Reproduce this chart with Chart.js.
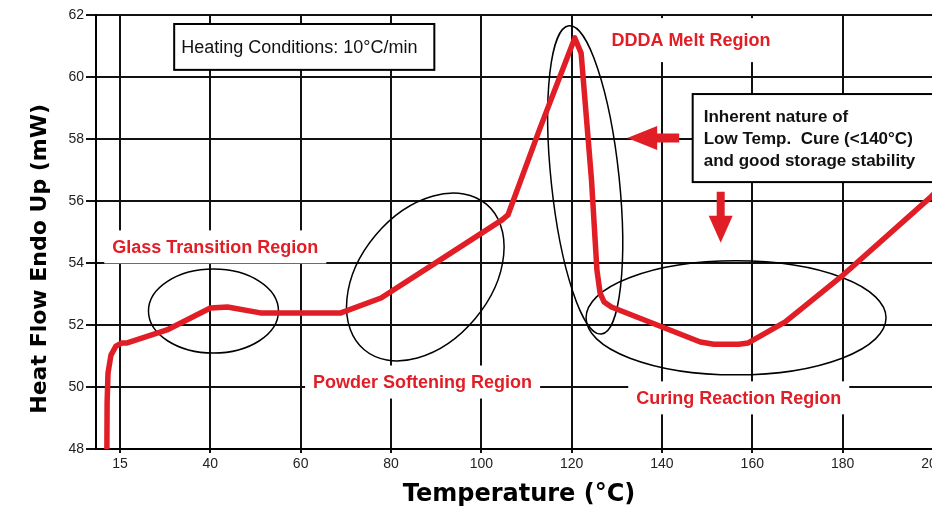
<!DOCTYPE html>
<html>
<head>
<meta charset="utf-8">
<script src="https://cdn.jsdelivr.net/npm/chart.js@4.4.0/dist/chart.umd.min.js"></script>
<style>
  html, body { margin: 0; padding: 0; background: #fff; overflow: hidden; }
  #wrap { width: 932px; height: 511px; overflow: hidden; }
</style>
</head>
<body>
<div id="wrap"><canvas id="myChart" width="960" height="511"></canvas></div>
<script>
// DSC trace
const temps = [17.1, 17.15, 17.35, 18.0, 19.1, 20.4, 21.6, 30.4, 40.0, 43.8, 51.1, 68.9, 77.8, 90.9, 104.6, 105.9, 113.0, 120.7, 122.1, 124.4, 125.6, 126.3, 127.2, 128.8, 148.5, 151.5, 157.0, 159.1, 167.3, 179.6, 199.3, 202];
const heatFlow = [48.0, 49.5, 50.45, 51.03, 51.32, 51.42, 51.42, 51.84, 52.55, 52.58, 52.39, 52.39, 52.87, 54.1, 55.39, 55.55, 58.35, 61.26, 60.77, 56.68, 53.77, 53.03, 52.74, 52.58, 51.45, 51.38, 51.38, 51.42, 52.1, 53.55, 56.1, 56.5];

// axis ticks (first grid line is labelled "15" in the original)
const xTickValues = [20, 40, 60, 80, 100, 120, 140, 160, 180, 200];
const xTickLabels = ['15', '40', '60', '80', '100', '120', '140', '160', '180', '200'];
const yTickValues = [48, 50, 52, 54, 56, 58, 60, 62];

// region notes
const regionNames = ['Glass Transition Region', 'Powder Softening Region', 'DDDA Melt Region', 'Curing Reaction Region'];
const regionX = [41.1, 87.0, 146.4, 157.0];
const regionY = [54.52, 50.16, 61.19, 49.65];

const heatingNote = 'Heating Conditions: 10°C/min';
const cureNote = ['Inherent nature of', 'Low Temp.  Cure (<140°C)', 'and good storage stability'];

const RED = '#e11d26';

// draws the ellipses, boxes, labels and arrows in data space
const notesPlugin = {
  id: 'notes',
  beforeDatasetsDraw(chart) {
    const ctx = chart.ctx;
    const xs = chart.scales.x, ys = chart.scales.y;
    const px = v => xs.getPixelForValue(v);
    const py = v => ys.getPixelForValue(v);
    ctx.save();

    // ellipses
    const ells = [
      [40.7, 52.45, 65, 42, 0],
      [87.6, 53.55, 95, 65, -50],
      [123.0, 56.68, 155, 34, 84],
      [156.4, 52.23, 150, 57, 0]
    ];
    ctx.strokeStyle = '#000';
    ctx.lineWidth = 1.5;
    ells.forEach(e => {
      ctx.beginPath();
      ctx.ellipse(px(e[0]), py(e[1]), e[2], e[3], e[4] * Math.PI / 180, 0, Math.PI * 2);
      ctx.stroke();
    });

    // region labels on white
    ctx.font = 'bold 18px "Liberation Sans", Arial, sans-serif';
    ctx.textAlign = 'center';
    ctx.textBaseline = 'middle';
    regionNames.forEach((t, i) => {
      const cx = px(regionX[i]), cy = py(regionY[i]);
      const w = ctx.measureText(t).width + 16;
      const h = i === 2 ? 44 : 33;
      ctx.fillStyle = '#fff';
      ctx.fillRect(cx - w / 2, cy - h / 2, w, h);
      ctx.fillStyle = RED;
      ctx.fillText(t, cx, cy + 1);
    });

    // heating conditions box
    let x0 = px(32.0), y0 = py(61.71), x1 = px(89.6), y1 = py(60.23);
    ctx.fillStyle = '#fff';
    ctx.fillRect(x0, y0, x1 - x0, y1 - y0);
    ctx.strokeStyle = '#000';
    ctx.lineWidth = 2;
    ctx.strokeRect(x0, y0, x1 - x0, y1 - y0);
    ctx.fillStyle = '#111';
    ctx.font = '18px "Liberation Sans", Arial, sans-serif';
    ctx.textAlign = 'left';
    ctx.fillText(heatingNote, x0 + 7, (y0 + y1) / 2 + 1);

    // low temp cure box
    x0 = px(146.8); y0 = py(59.45); x1 = px(215); y1 = py(56.61);
    ctx.fillStyle = '#fff';
    ctx.fillRect(x0, y0, x1 - x0, y1 - y0);
    ctx.strokeRect(x0, y0, x1 - x0, y1 - y0);
    ctx.fillStyle = '#111';
    ctx.font = 'bold 17px "Liberation Sans", Arial, sans-serif';
    cureNote.forEach((t, i) => ctx.fillText(t, x0 + 11, y0 + 23 + i * 22));

    // arrows
    ctx.fillStyle = RED;
    let tx = px(132.3), ty = py(58.03);
    ctx.beginPath();
    ctx.moveTo(tx, ty);
    ctx.lineTo(tx + 30, ty - 12);
    ctx.lineTo(tx + 30, ty - 4.5);
    ctx.lineTo(tx + 52, ty - 4.5);
    ctx.lineTo(tx + 52, ty + 4.5);
    ctx.lineTo(tx + 30, ty + 4.5);
    ctx.lineTo(tx + 30, ty + 12);
    ctx.closePath();
    ctx.fill();

    tx = px(153.0); ty = py(54.65);
    ctx.beginPath();
    ctx.moveTo(tx, ty);
    ctx.lineTo(tx - 12, ty - 27);
    ctx.lineTo(tx - 4, ty - 27);
    ctx.lineTo(tx - 4, ty - 51);
    ctx.lineTo(tx + 4, ty - 51);
    ctx.lineTo(tx + 4, ty - 27);
    ctx.lineTo(tx + 12, ty - 27);
    ctx.closePath();
    ctx.fill();

    ctx.restore();
  }
};

const ctx = document.getElementById('myChart').getContext('2d');
const chart = new Chart(ctx, {
  type: 'line',
  data: {
    datasets: [{
      label: 'Heat Flow',
      data: temps.map((t, i) => ({x: t, y: heatFlow[i]})),
      borderColor: RED,
      borderWidth: 5.5,
      borderJoinStyle: 'round',
      pointRadius: 0,
      tension: 0,
      fill: false
    }]
  },
  options: {
    responsive: false,
    devicePixelRatio: 1,
    animation: false,
    layout: { padding: { top: 15, right: 18, left: 0, bottom: 0 } },
    plugins: {
      legend: { display: false },
      tooltip: { enabled: false }
    },
    scales: {
      x: {
        type: 'linear',
        min: 14.69,
        max: 202,
        afterBuildTicks: s => { s.ticks = xTickValues.map(v => ({value: v})); },
        afterFit: s => { s.height = 62; },
        border: { color: '#000', width: 2 },
        grid: { color: '#111', lineWidth: 2, tickLength: 4 },
        ticks: {
          padding: 3,
          color: '#222',
          font: { family: '"Liberation Sans", Arial, sans-serif', size: 14 },
          callback: v => xTickLabels[xTickValues.indexOf(v)]
        },
        title: {
          display: true,
          text: 'Temperature (°C)',
          color: '#000',
          font: { family: '"DejaVu Sans", sans-serif', size: 24, weight: 'bold' },
          padding: { top: 0, bottom: 2 }
        }
      },
      y: {
        min: 48,
        max: 62,
        afterBuildTicks: s => { s.ticks = yTickValues.map(v => ({value: v})); },
        afterFit: s => { s.width = 96; },
        border: { color: '#000', width: 2 },
        grid: { color: '#111', lineWidth: 2, tickLength: 10 },
        ticks: {
          padding: 2,
          color: '#222',
          font: { family: '"Liberation Sans", Arial, sans-serif', size: 14 }
        },
        title: {
          display: true,
          text: 'Heat Flow Endo Up (mW)\u00a0\u00a0\u00a0\u00a0\u00a0\u00a0\u00a0',
          color: '#000',
          font: { family: '"DejaVu Sans", sans-serif', size: 22, weight: 'bold' },
          padding: { top: 27, bottom: 0 }
        }
      }
    }
  },
  plugins: [notesPlugin]
});
</script>
</body>
</html>
